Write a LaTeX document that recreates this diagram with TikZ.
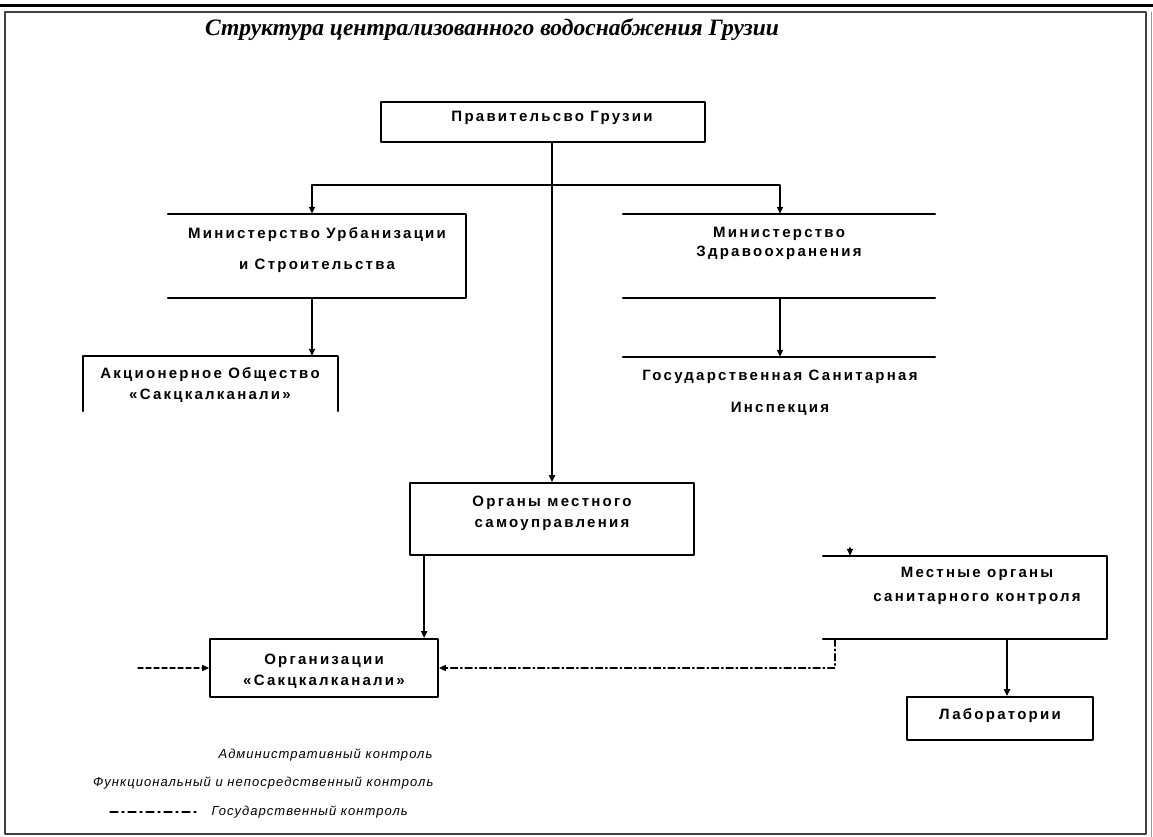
\documentclass[tikz,border=0pt]{standalone}
\usepackage{fontspec}
\setmainfont{Liberation Sans}
\newfontfamily\titlefont{Liberation Serif}
\newfontfamily\boxfont[LetterSpace=15]{Liberation Sans}
\newfontfamily\legfont[LetterSpace=8]{Liberation Sans}
\usetikzlibrary{arrows.meta}

\begin{document}
\begin{tikzpicture}[x=1pt,y=-1pt,>={Triangle[length=7pt,width=6pt]},line cap=round,line join=round,
  box/.style={minimum width=#1,inner sep=0pt},
  lbl/.style={align=center,font=\boxfont\bfseries\fontsize{15}{21}\selectfont},
  edge/.style={line width=1.7pt},
  arr/.style={->,line width=1.8pt},
  fdash/.style={->,line width=1.4pt,dash pattern=on 5pt off 3pt},
  gdash/.style={->,line width=1.4pt,dash pattern=on 7pt off 3pt on 1.5pt off 3pt},
  legend/.style={font=\legfont\itshape\fontsize{13}{15}\selectfont}]
\useasboundingbox (0,0) rectangle (1153,837);
% frame
\draw[line width=3pt] (0,6) -- (1153,6);
\draw[line width=1.2pt,black!75] (5,12) rectangle (1146,834);
\draw[line width=1pt,black!40] (1151,12) -- (1151,837);
\node[font=\titlefont\bfseries\itshape\fontsize{23.5}{26}\selectfont] (title) at (492,30) {Структура централизованного водоснабжения Грузии};
% boxes
\node[box=324pt,minimum height=40pt,draw,line width=1.7pt] (gov) at (543,122) {};
\node[lbl] (govt) at (552,118) {Правительсво Грузии};
\node[box=298pt,minimum height=84pt] (minurb) at (317,256) {};
\node[lbl,font=\boxfont\bfseries\fontsize{15}{31}\selectfont] (minurbt) at (317,250) {Министерство Урбанизации\\и Строительства};
\node[box=255pt,minimum height=55pt] (ak) at (210.5,383.5) {};
\node[lbl] (akt) at (210,385) {Акционерное Общество\\«Сакцкалканали»};
\node[box=312pt,minimum height=84pt] (minzd) at (779,256) {};
\node[lbl,font=\boxfont\bfseries\fontsize{15}{19}\selectfont] (minzdt) at (779,243) {Министерство\\Здравоохранения};
\node[box=312pt,minimum height=60pt] (gsi) at (779,387) {};
\node[lbl,font=\boxfont\bfseries\fontsize{15}{32}\selectfont] (gsit) at (780,393) {Государственная Санитарная\\Инспекция};
\node[box=284pt,minimum height=72pt,draw,line width=1.7pt] (mso) at (552,519) {};
\node[lbl] (msot) at (552,513) {Органы местного\\самоуправления};
\node[box=228pt,minimum height=58pt,draw,line width=1.7pt] (org) at (324,668) {};
\node[lbl] (orgt) at (324,671) {Организации\\«Сакцкалканали»};
\node[box=284pt,minimum height=83pt] (mest) at (965,597.5) {};
\node[lbl,font=\boxfont\bfseries\fontsize{15}{24}\selectfont] (mestt) at (977,586) {Местные органы\\санитарного контроля};
\node[box=186pt,minimum height=43pt,draw,line width=1.7pt] (lab) at (1000,718.5) {};
\node[lbl] (labt) at (1000,716) {Лаборатории};
% open sides
\draw[edge] (minurb.north west) -- (minurb.north east) -- (minurb.south east) -- (minurb.south west);
\draw[edge] (ak.south west) -- (ak.north west) -- (ak.north east) -- (ak.south east);
\draw[edge] (minzd.north west) -- (minzd.north east);
\draw[edge] (minzd.south west) -- (minzd.south east);
\draw[edge] (gsi.north west) -- (gsi.north east);
\draw[edge] (mest.north west) -- (mest.north east) -- (mest.south east) -- (mest.south west);
% connectors
\coordinate (br) at (552,185);
\draw[arr] (gov.south -| mso.north) -- (mso.north);
\draw[arr] (br) -| ([xshift=-5pt]minurb.north);
\draw[arr] (br) -| ([xshift=1pt]minzd.north);
\draw[arr] ([xshift=-5pt]minurb.south) -- ([xshift=-5pt]minurb.south |- ak.north);
\draw[arr] ([xshift=1pt]minzd.south) -- ([xshift=1pt]minzd.south |- gsi.north);
\draw[arr] ([xshift=15pt]mso.south west) -- ([xshift=15pt]mso.south west |- org.north);
\draw[arr] ([xshift=7pt]mest.south -| lab.north) -- ([xshift=7pt]lab.north);
\coordinate (mtop) at (850,548);
\draw[arr] (mtop) -- (mtop |- mest.north);
\coordinate (fin) at (138,668);
\draw[fdash] (fin) -- (org.west);
\draw[gdash] ([xshift=12pt]mest.south west) |- (org.east);
% legend
\node[legend,anchor=east] (l1) at (436,755) {Административный контроль};
\node[legend,anchor=east] (l2) at (437,783) {Функциональный и непосредственный контроль};
\node[legend,anchor=west] (l3) at (208,812) {Государственный контроль};
\coordinate (l3s) at (110,812);
\draw[line width=1.2pt,dash pattern=on 8pt off 4pt on 2pt off 4pt] (l3s) -- ([xshift=-11pt]l3.west);
\end{tikzpicture}
\end{document}
